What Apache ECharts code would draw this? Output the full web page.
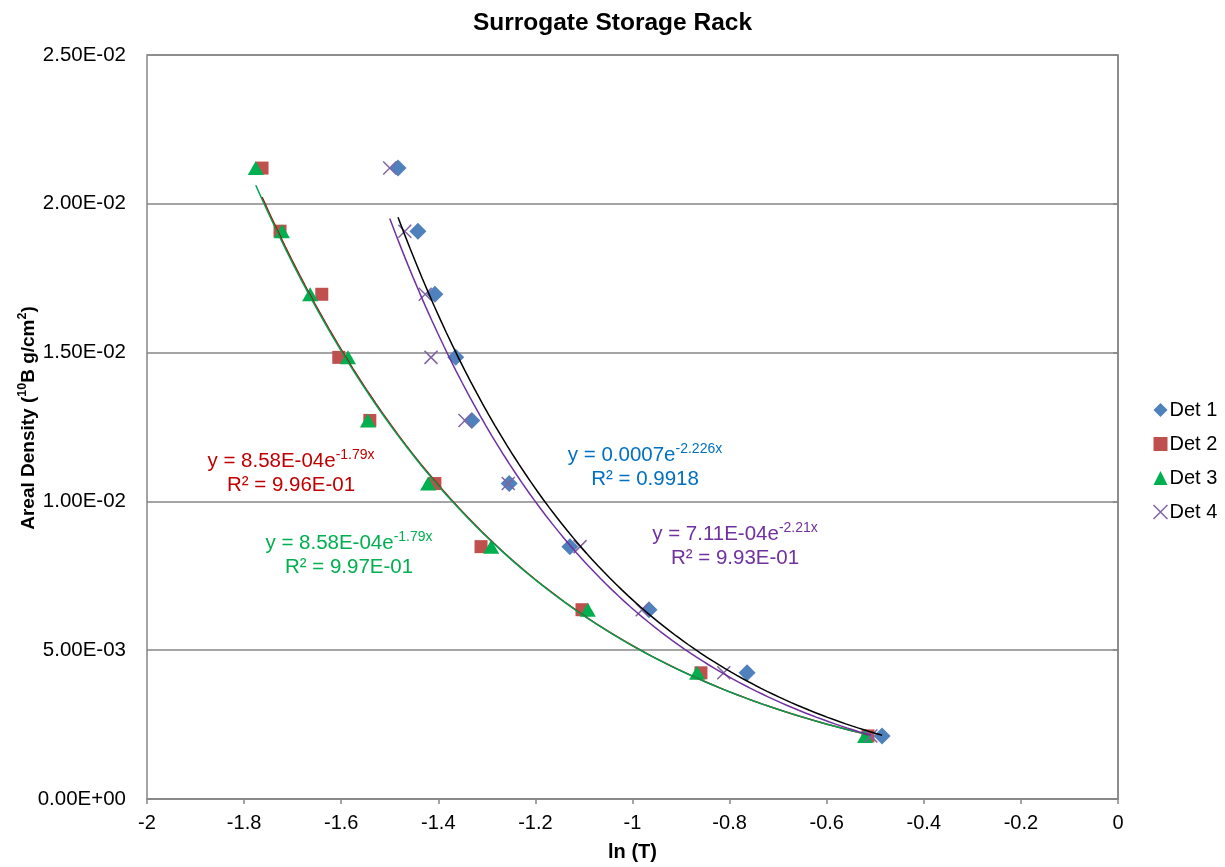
<!DOCTYPE html>
<html>
<head>
<meta charset="utf-8">
<script src="https://cdn.jsdelivr.net/npm/echarts@6/dist/echarts.min.js"></script>
<style>
html,body{margin:0;padding:0;background:#fff;}
#chart{width:1225px;height:867px;}
</style>
</head>
<body>
<div id="chart"></div>
<script>
// Areal density levels (10B g/cm^2), shared by all detectors
const arealDensity = [0.0212, 0.01908, 0.01696, 0.01484, 0.01272, 0.0106, 0.00848, 0.00636, 0.00424, 0.00212];
// ln(T) values read per detector
const det1 = [-1.483, -1.442, -1.407, -1.364, -1.331, -1.254, -1.129, -0.966, -0.764, -0.486];
const det2 = [-1.763, -1.726, -1.640, -1.605, -1.541, -1.407, -1.312, -1.104, -0.859, -0.515];
const det3 = [-1.776, -1.722, -1.664, -1.586, -1.545, -1.421, -1.291, -1.092, -0.867, -0.521];
const det4 = [-1.500, -1.469, -1.427, -1.415, -1.345, -1.256, -1.108, -0.980, -0.812, -0.509];
const seriesNames = ['Det 1', 'Det 2', 'Det 3', 'Det 4'];
const xTicks = [-2, -1.8, -1.6, -1.4, -1.2, -1, -0.8, -0.6, -0.4, -0.2, 0];
const yTicks = [0, 0.005, 0.01, 0.015, 0.02, 0.025];
// trendline equation labels as shown on the chart
const eqRed = ['y = 8.58E-04e', '-1.79x', 'R² = 9.96E-01'];
const eqGreen = ['y = 8.58E-04e', '-1.79x', 'R² = 9.97E-01'];
const eqBlue = ['y = 0.0007e', '-2.226x', 'R² = 0.9918'];
const eqPurple = ['y = 7.11E-04e', '-2.21x', 'R² = 9.93E-01'];

function pairs(xs){ return xs.map((x,i)=>[x, arealDensity[i]]); }
// Exponential least-squares trendline (fit of ln y on x), evaluated across data range
function expTrend(xs){
  const n = xs.length;
  let sx=0, sy=0, sxx=0, sxy=0;
  xs.forEach((x,i)=>{ const ly=Math.log(arealDensity[i]); sx+=x; sy+=ly; sxx+=x*x; sxy+=x*ly; });
  const b = (n*sxy - sx*sy)/(n*sxx - sx*sx);
  const a = Math.exp((sy - b*sx)/n);
  const lo = Math.min(...xs), hi = Math.max(...xs);
  const pts = [];
  const steps = 80;
  for(let k=0;k<=steps;k++){ const x = lo + (hi-lo)*k/steps; pts.push([x, a*Math.exp(b*x)]); }
  return pts;
}
function fmtE(v){
  if (Math.abs(v) < 1e-12) return '0.00E+00';
  let e = Math.floor(Math.log10(Math.abs(v)));
  let m = v/Math.pow(10,e);
  if (Math.abs(m) >= 9.995){ m/=10; e++; }
  return m.toFixed(2)+'E'+(e<0?'-':'+')+String(Math.abs(e)).padStart(2,'0');
}

const chart = echarts.init(document.getElementById('chart'), null, {renderer:'canvas'});
const FONT = 'Liberation Sans, Arial, sans-serif';
const axisGray = '#868686';
const xPath = 'path://M0,0L10,10M0,10L10,0';

function eqLabel(eq, color, cx, cy){
  return {
    type:'text', x:cx, y:cy, z:100,
    style:{
      text:'{n|'+eq[0]+'}{s|'+eq[1]+'}\n{n|'+eq[2]+'}',
      align:'center', verticalAlign:'middle',
      fill:color, fontFamily:FONT,
      rich:{
        n:{fontSize:20.5, fontFamily:FONT, fill:color, lineHeight:24, verticalAlign:'bottom'},
        s:{fontSize:14, fontFamily:FONT, fill:color, lineHeight:24, verticalAlign:'top'}
      }
    }
  };
}

const option = {
  backgroundColor:'#fff',
  animation:false,
  title:{
    text:'Surrogate Storage Rack', left:'center', top:6,
    textStyle:{fontFamily:FONT, fontSize:24.5, fontWeight:'bold', color:'#000'}
  },
  legend:{
    orient:'vertical', left:1151, top:400, itemGap:14, itemWidth:14, itemHeight:14, padding:0,
    textStyle:{fontFamily:FONT, fontSize:20, color:'#000', padding:[0,0,0,-3]},
    data:[
      {name:'Det 1', icon:'diamond'},
      {name:'Det 2', icon:'rect'},
      {name:'Det 3', icon:'triangle'},
      {name:'Det 4', icon:xPath, itemStyle:{color:'none', borderColor:'#8064A2', borderWidth:1.5}}
    ]
  },
  grid:{left:147, right:107, top:55, bottom:67, show:true, borderColor:axisGray, borderWidth:1.5, containLabel:false},
  xAxis:{
    type:'value', min:-2, max:0, interval:0.2,
    name:'ln (T)', nameLocation:'middle', nameGap:43,
    nameTextStyle:{fontFamily:FONT, fontSize:20, fontWeight:'bold', color:'#000'},
    axisLine:{show:true, onZero:false, lineStyle:{color:axisGray, width:1.5}},
    axisTick:{show:true, length:5, lineStyle:{color:axisGray, width:1.5}},
    axisLabel:{fontFamily:FONT, fontSize:20, color:'#000', margin:14,
      formatter:function(v){ return String(Math.round(v*10)/10); }},
    splitLine:{show:false}
  },
  yAxis:{
    type:'value', min:0, max:0.025, interval:0.005,
    axisLine:{show:true, lineStyle:{color:axisGray, width:1.5}},
    axisTick:{show:true, length:5, lineStyle:{color:axisGray, width:1.5}},
    axisLabel:{fontFamily:FONT, fontSize:20.5, color:'#000', margin:21, formatter:fmtE},
    splitLine:{show:true, lineStyle:{color:axisGray, width:1.5}}
  },
  series:[
    {name:'Det 1', type:'scatter', symbol:'diamond', symbolSize:17, data:pairs(det1), itemStyle:{color:'#4F81BD', opacity:1}, z:2},
    {name:'Det 2', type:'scatter', symbol:'rect', symbolSize:13, data:pairs(det2), itemStyle:{color:'#C0504D', opacity:1}, z:2},
    {name:'Det 3', type:'scatter', symbol:'triangle', symbolSize:[16,14], data:pairs(det3), itemStyle:{color:'#00B050', opacity:1}, z:2},
    {name:'Det 4', type:'scatter', symbol:xPath, symbolSize:13, data:pairs(det4), itemStyle:{color:'none', borderColor:'#8064A2', borderWidth:1.5, opacity:1}, z:2},
    {name:'trend1', type:'line', data:expTrend(det1), showSymbol:false, symbol:'none', smooth:false, lineStyle:{color:'#000000', width:1.5}, z:3, silent:true},
    {name:'trend2', type:'line', data:expTrend(det2), showSymbol:false, symbol:'none', smooth:false, lineStyle:{color:'#C00000', width:1.5}, z:3, silent:true},
    {name:'trend3', type:'line', data:expTrend(det3), showSymbol:false, symbol:'none', smooth:false, lineStyle:{color:'#00A050', width:1.5}, z:3, silent:true},
    {name:'trend4', type:'line', data:expTrend(det4), showSymbol:false, symbol:'none', smooth:false, lineStyle:{color:'#7030A0', width:1.5}, z:3, silent:true}
  ],
  graphic:[
    {
      type:'text', x:27, y:418, rotation:Math.PI/2, z:100,
      style:{
        text:'{b|Areal Density (}{s|10}{b|B g/cm}{s|2}{b|)}',
        align:'center', verticalAlign:'middle', fill:'#000', fontFamily:FONT,
        rich:{
          b:{fontFamily:FONT, fontSize:19, fontWeight:'bold', fill:'#000', lineHeight:22, verticalAlign:'bottom'},
          s:{fontFamily:FONT, fontSize:12.5, fontWeight:'bold', fill:'#000', lineHeight:22, verticalAlign:'top'}
        }
      }
    },
    eqLabel(eqRed, '#C00000', 291, 472),
    eqLabel(eqGreen, '#00B050', 349, 554),
    eqLabel(eqBlue, '#0070C0', 645, 466),
    eqLabel(eqPurple, '#7030A0', 735, 545)
  ]
};
chart.setOption(option);
</script>
</body>
</html>
